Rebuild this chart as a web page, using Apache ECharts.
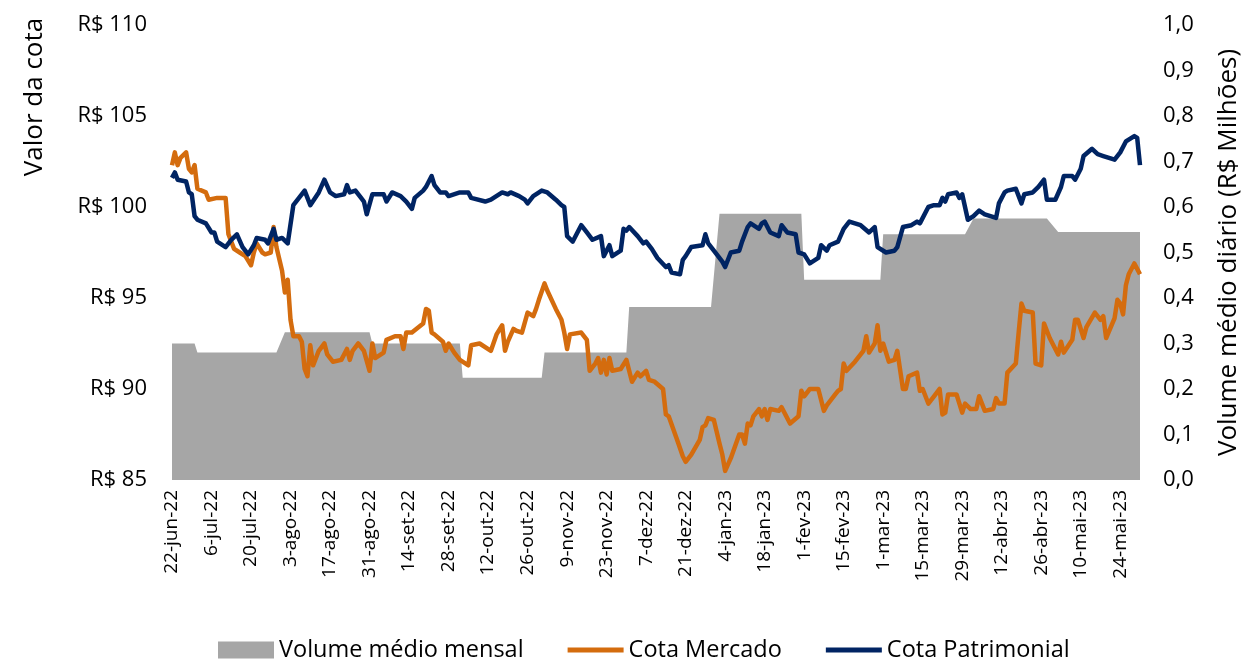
<!DOCTYPE html>
<html>
<head>
<meta charset="utf-8">
<script src="https://cdn.jsdelivr.net/npm/echarts@6/dist/echarts.min.js"></script>
<style>
html, body { margin: 0; padding: 0; background: #fff; }
#chart { width: 1250px; height: 659px; }
</style>
</head>
<body>
<div id="chart"></div>
<script>
// eixo x em dias corridos a partir de 22-jun-22
var INICIO = Date.UTC(2022, 5, 22);
var MESES = ['jan', 'fev', 'mar', 'abr', 'mai', 'jun', 'jul', 'ago', 'set', 'out', 'nov', 'dez'];
var DIA_FINAL = 343; // 31-mai-23

// volume médio mensal (R$ milhões): primeiro e último pregão de cada mês
var volMeses = ['jun-22', 'jul-22', 'ago-22', 'set-22', 'out-22', 'nov-22', 'dez-22', 'jan-23', 'fev-23', 'mar-23', 'abr-23', 'mai-23'];
var volInicio = [0, 9, 40, 71, 103, 132, 162, 194, 224, 252, 284, 314];
var volFim = [8, 37, 70, 102, 131, 161, 191, 223, 251, 281, 310, 343];
var volMedia = [0.30, 0.28, 0.325, 0.30, 0.225, 0.28, 0.38, 0.585, 0.44, 0.54, 0.575, 0.545];

// [dia, R$]
var cotaMercado = [
  [0,102.3],[1,103.0],[2,102.3],[3,102.7],[5,103.0],[6,102.1],[7,101.9],[8,102.3],[9,101.0],[12,100.8],
  [13,100.4],[16,100.5],[19,100.5],[20,98.5],[22,97.7],[24,97.5],[26,97.3],[28,96.8],[29,97.5],[30,98.0],
  [32,97.5],[33,97.4],[35,97.5],[36,98.9],[37,97.8],[39,96.5],[40,95.3],[41,96.0],[42,93.8],[43,92.9],
  [45,92.9],[46,92.6],[47,91.1],[48,90.7],[49,92.4],[50,91.3],[52,92.1],[54,92.5],[55,91.9],[57,91.5],
  [60,91.6],[62,92.2],[63,91.6],[64,92.1],[66,92.5],[68,92.1],[70,91.0],[71,92.5],[72,91.7],[75,92.0],
  [76,92.7],[79,92.9],[81,92.9],[82,92.2],[83,93.1],[85,93.1],[89,93.6],[90,94.4],[91,94.3],[92,93.1],
  [93,93.0],[96,92.6],[97,92.1],[98,92.5],[100,92.0],[102,91.6],[105,91.3],[106,92.4],[109,92.5],[113,92.1],
  [115,93.0],[117,93.5],[118,92.1],[119,92.6],[121,93.3],[122,93.2],[124,93.1],[126,94.2],[128,94.0],[129,94.4],
  [130,94.9],[132,95.8],[133,95.4],[136,94.4],[138,93.8],[139,93.1],[140,92.2],[141,93.0],[145,93.1],[147,92.7],
  [148,91.0],[150,91.4],[151,91.7],[152,90.9],[153,91.6],[154,90.8],[155,91.7],[156,91.0],[159,91.1],[161,91.6],
  [163,90.4],[165,90.9],[166,90.7],[168,91.0],[169,90.5],[171,90.4],[174,90.0],[175,88.6],[176,88.5],[179,87.2],
  [181,86.3],[182,86.0],[184,86.4],[187,87.2],[188,87.9],[189,88.0],[190,88.4],[192,88.3],[194,87.0],[195,86.4],
  [196,85.5],[198,86.2],[201,87.5],[202,87.5],[203,87.0],[204,88.1],[205,88.0],[206,88.5],[208,88.9],[209,88.5],
  [210,88.9],[211,88.3],[212,88.9],[215,88.8],[216,89.0],[219,88.1],[222,88.5],[223,89.9],[224,89.6],[226,90.0],
  [229,90.0],[231,88.8],[232,89.1],[235,89.7],[236,89.9],[237,90.0],[238,91.4],[239,91.0],[242,91.5],[245,92.1],
  [246,92.9],[247,92.0],[249,92.5],[250,93.5],[251,92.1],[252,92.5],[254,91.5],[256,91.6],[257,92.1],[259,90.0],
  [260,90.0],[261,90.7],[264,90.9],[265,89.9],[266,90.0],[268,89.2],[270,89.6],[272,90.0],[273,88.6],[274,88.7],
  [275,89.7],[278,89.7],[280,88.7],[281,89.2],[283,88.9],[285,88.9],[286,89.6],[288,88.8],[291,88.9],[292,89.5],
  [293,89.2],[295,89.2],[296,90.9],[299,91.4],[300,93.1],[301,94.7],[302,94.3],[305,94.2],[306,91.4],[308,91.3],
  [309,93.6],[311,92.8],[314,91.9],[315,92.6],[316,92.0],[319,92.7],[320,93.8],[321,93.8],[323,92.8],[324,93.4],
  [327,94.2],[329,93.8],[330,94.0],[331,92.8],[334,93.9],[335,94.9],[336,94.7],[337,94.1],[338,95.7],[339,96.3],
  [341,96.9],[342,96.6],[343,96.3]
];

var cotaPatrimonial = [
  [0,101.6],[1,101.9],[2,101.5],[5,101.4],[6,100.8],[7,100.7],[8,99.5],[9,99.3],[12,99.1],[14,98.6],
  [15,98.6],[16,98.1],[19,97.8],[21,98.2],[23,98.5],[25,97.8],[27,97.4],[29,97.9],[30,98.3],[33,98.2],
  [34,98.0],[36,98.8],[37,98.2],[39,98.3],[41,98.0],[43,100.1],[45,100.5],[47,100.9],[49,100.1],[52,100.8],
  [54,101.5],[56,100.8],[58,100.6],[61,100.7],[62,101.2],[63,100.8],[65,100.9],[67,100.5],[68,100.3],[69,99.6],
  [71,100.7],[75,100.7],[76,100.3],[78,100.8],[81,100.6],[83,100.3],[85,99.9],[86,100.5],[89,100.9],[90,101.1],
  [92,101.7],[93,101.2],[95,100.8],[97,100.8],[98,100.6],[102,100.8],[105,100.8],[106,100.5],[111,100.3],[113,100.4],
  [117,100.8],[119,100.7],[120,100.8],[123,100.6],[125,100.4],[126,100.2],[128,100.6],[131,100.9],[133,100.8],[136,100.4],
  [138,100.1],[139,100.0],[140,98.4],[142,98.1],[145,99.0],[147,98.6],[149,98.2],[152,98.4],[153,97.3],[155,97.9],
  [156,97.3],[159,97.6],[160,98.8],[161,98.7],[162,98.9],[165,98.4],[167,98.0],[168,98.1],[170,97.7],[172,97.2],
  [175,96.7],[176,96.8],[177,96.4],[180,96.3],[181,97.1],[182,97.3],[184,97.8],[188,97.9],[189,98.5],[190,98.0],
  [192,97.6],[195,97.0],[196,96.7],[198,97.5],[201,97.6],[202,98.1],[204,98.9],[205,99.1],[208,98.8],[209,99.1],
  [210,99.2],[212,98.6],[215,98.4],[216,99.0],[218,98.6],[221,98.5],[222,97.5],[224,97.4],[226,96.9],[229,97.2],
  [230,97.9],[232,97.6],[233,97.9],[236,98.1],[238,98.8],[240,99.2],[244,99.0],[247,98.6],[249,98.9],[250,97.8],
  [253,97.5],[256,97.6],[257,97.8],[259,98.9],[262,99.0],[264,99.2],[265,99.1],[268,100.0],[270,100.1],[272,100.1],
  [273,100.5],[274,100.3],[275,100.7],[278,100.8],[279,100.5],[280,100.7],[282,99.3],[284,99.5],[286,99.8],[288,99.6],
  [292,99.4],[293,100.2],[295,100.8],[296,100.9],[299,101.0],[301,100.2],[302,100.7],[305,100.8],[307,101.1],[309,101.5],
  [310,100.4],[313,100.4],[315,101.1],[316,101.7],[319,101.7],[320,101.5],[322,102.1],[323,102.8],[326,103.2],[328,102.9],
  [330,102.8],[334,102.6],[336,103.0],[338,103.6],[339,103.7],[341,103.9],[342,103.8],[343,102.3]
];

var FONTE = '"Open Sans", sans-serif';
var ICONE_LINHA = 'path://M0,0H56V5H0Z';

function rotuloData(v) {
  var d = new Date(INICIO + v * 86400000);
  return d.getUTCDate() + '-' + MESES[d.getUTCMonth()] + '-' + String(d.getUTCFullYear()).slice(2);
}

// pontos do degrau: inicio e fim de cada mês
var volPontos = [];
for (var i = 0; i < volMeses.length; ++i) {
  volPontos.push([volInicio[i], volMedia[i]]);
  volPontos.push([volFim[i], volMedia[i]]);
}

var chart = echarts.init(document.getElementById('chart'), null, { renderer: 'canvas' });

chart.setOption({
  animation: false,
  textStyle: { fontFamily: FONTE, color: '#000' },
  grid: { left: 172, right: 107, top: 25, bottom: 179, containLabel: false },
  legend: {
    left: 213,
    top: 633,
    itemWidth: 56,
    itemHeight: 17,
    itemGap: 44,
    textStyle: { fontFamily: FONTE, fontSize: 23.5, color: '#000' },
    data: [
      { name: 'Volume médio mensal', icon: 'rect' },
      { name: 'Cota Mercado', icon: ICONE_LINHA },
      { name: 'Cota Patrimonial', icon: ICONE_LINHA }
    ]
  },
  graphic: [{
    type: 'text',
    x: 35,
    y: 97,
    rotation: Math.PI / 2,
    style: {
      text: 'Valor da cota',
      font: '26px ' + FONTE,
      fill: '#000',
      textAlign: 'center',
      textVerticalAlign: 'middle'
    }
  }],
  xAxis: {
    type: 'value',
    min: 0,
    max: DIA_FINAL,
    interval: 14,
    axisLine: { show: false },
    axisTick: { show: false },
    splitLine: { show: false },
    axisLabel: {
      rotate: 90,
      margin: 10,
      fontSize: 19,
      color: '#000',
      showMaxLabel: false,
      formatter: rotuloData
    }
  },
  yAxis: [{
    type: 'value',
    min: 85,
    max: 110,
    interval: 5,
    axisLine: { show: false },
    axisTick: { show: false },
    splitLine: { show: false },
    axisLabel: {
      margin: 25,
      fontSize: 22,
      color: '#000',
      formatter: function (v) { return 'R$ ' + v; }
    }
  }, {
    type: 'value',
    min: 0,
    max: 1,
    interval: 0.1,
    position: 'right',
    name: 'Volume médio diário (R$ Milhões)',
    nameLocation: 'middle',
    nameRotate: 90,
    nameGap: 76,
    nameTextStyle: { fontSize: 26, color: '#000', fontFamily: FONTE },
    axisLine: { show: false },
    axisTick: { show: false },
    splitLine: { show: false },
    axisLabel: {
      margin: 23,
      fontSize: 22,
      color: '#000',
      formatter: function (v) { return v.toFixed(1).replace('.', ','); }
    }
  }],
  series: [{
    name: 'Volume médio mensal',
    type: 'line',
    yAxisIndex: 1,
    data: volPontos,
    symbol: 'none',
    lineStyle: { width: 0 },
    itemStyle: { color: '#A6A6A6' },
    areaStyle: { color: '#A6A6A6', opacity: 1 },
    z: 1
  }, {
    name: 'Cota Mercado',
    type: 'line',
    data: cotaMercado,
    symbol: 'none',
    lineStyle: { width: 4.5, color: '#D46C0E', join: 'round' },
    itemStyle: { color: '#D46C0E' },
    z: 2
  }, {
    name: 'Cota Patrimonial',
    type: 'line',
    data: cotaPatrimonial,
    symbol: 'none',
    lineStyle: { width: 4.5, color: '#002463', join: 'round' },
    itemStyle: { color: '#002463' },
    z: 3
  }]
});
</script>
</body>
</html>
